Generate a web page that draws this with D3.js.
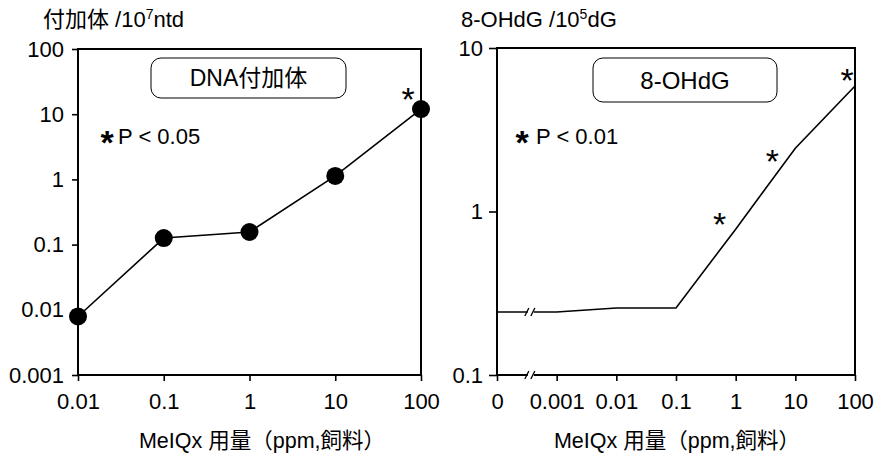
<!DOCTYPE html>
<html>
<head>
<meta charset="utf-8">
<script src="https://cdn.jsdelivr.net/npm/d3@7"></script>
<style>
  body { margin: 0; background: #fff; }
  svg { display: block; font-family: "Liberation Sans", Arial, "Noto Sans CJK JP", sans-serif; }
</style>
</head>
<body>
<div class="container"></div>
<script>
// left panel: DNA adducts
var doseLeft = [0.01, 0.1, 1, 10, 100];
var adductValues = [0.0079, 0.126, 0.156, 1.13, 12.0];
var adductSig = [100];
var adductTicks = [0.001, 0.01, 0.1, 1, 10, 100];
var adductTickLabels = ["0.001", "0.01", "0.1", "1", "10", "100"];
var doseTicksLeft = [0.01, 0.1, 1, 10, 100];
var doseLabelsLeft = ["0.01", "0.1", "1", "10", "100"];

// right panel: 8-OHdG
var doseRight = [0, 0.001, 0.01, 0.1, 1, 10, 100];
var ohdgValues = [0.243, 0.243, 0.257, 0.257, 0.78, 2.44, 5.86];
var ohdgSig = [1, 10, 100];
var ohdgTicks = [0.1, 1, 10];
var ohdgTickLabels = ["0.1", "1", "10"];
var doseTicksRight = [0, 0.001, 0.01, 0.1, 1, 10, 100];
var doseLabelsRight = ["0", "0.001", "0.01", "0.1", "1", "10", "100"];

const WIDTH = 877;
const HEIGHT = 455;
const ZERO = 1e-4; // where dose 0 sits on the broken log axis

var svg = d3.select('.container').append('svg')
	.attr('width', WIDTH)
	.attr('height', HEIGHT);

var styleAxis = function(g, size){
	g.select('.domain').remove();
	g.selectAll('line').attr('stroke', '#000').attr('stroke-width', 1.6);
	g.selectAll('text')
		.attr('fill', '#000')
		.style('font-size', size + 'px')
		.style('font-family', '"Liberation Sans", Arial, sans-serif');
};

// asterisk centred on (x, y)
var star = function(x, y, size, bold){
	svg.append('text')
		.attr('x', x).attr('y', y + size * 0.57)
		.attr('text-anchor', 'middle')
		.style('font-size', size + 'px')
		.style('font-weight', bold ? 'bold' : 'normal')
		.text('*');
};

var drawPanel = function(p){
	// axes
	svg.append('g')
		.attr('transform', 'translate(0,' + p.y.range()[0] + ')')
		.call(d3.axisBottom(p.x).tickValues(p.xTicks.map(p.xv)).tickSize(6).tickPadding(12)
			.tickFormat(function(d, i){ return p.xLabels[i]; }))
		.call(styleAxis, 22);

	svg.append('g')
		.attr('transform', 'translate(' + p.x.range()[0] + ',0)')
		.call(d3.axisLeft(p.y).tickValues(p.yTicks).tickSize(p.ytick).tickPadding(p.ypad)
			.tickFormat(function(d, i){ return p.yLabels[i]; }))
		.call(styleAxis, 22);

	// frame
	svg.append('rect')
		.attr('x', p.x.range()[0]).attr('y', p.y.range()[1])
		.attr('width', p.x.range()[1] - p.x.range()[0])
		.attr('height', p.y.range()[0] - p.y.range()[1])
		.attr('fill', 'none').attr('stroke', '#000').attr('stroke-width', 2);

	// line
	var line = d3.line()
		.x(function(d){ return p.x(p.xv(d[0])); })
		.y(function(d){ return p.y(d[1]); });
	var pts = p.dose.map(function(d, i){ return [d, p.values[i]]; });
	svg.append('path')
		.attr('d', line(pts))
		.attr('fill', 'none').attr('stroke', '#000').attr('stroke-width', 1.6);

	// legend box
	svg.append('rect')
		.attr('x', p.box[0]).attr('y', p.box[1])
		.attr('width', p.box[2]).attr('height', p.box[3])
		.attr('rx', 10).attr('ry', 10)
		.attr('fill', '#fff').attr('stroke', '#000').attr('stroke-width', 1);
	svg.append('text')
		.attr('x', p.box[0] + p.box[2] / 2).attr('y', p.box[1] + p.box[3] / 2)
		.attr('dy', '0.36em')
		.attr('text-anchor', 'middle')
		.style('font-size', p.nameSize + 'px')
		.text(p.name);

	// significance note
	star(p.note[0], p.note[1], 34, true);
	svg.append('text')
		.attr('x', p.note[2]).attr('y', p.note[1] + 9)
		.style('font-size', '22px')
		.text('P < ' + p.pval);

	// y title
	var t = svg.append('text')
		.attr('x', p.title[0]).attr('y', p.title[1])
		.style('font-size', '22px');
	t.append('tspan').text(p.titleText[0]);
	t.append('tspan').attr('dy', -8).style('font-size', '14px').text(p.titleText[1]);
	t.append('tspan').attr('dy', 8).text(p.titleText[2]);

	// x title
	svg.append('text')
		.attr('x', p.xTitle[0]).attr('y', p.xTitle[1])
		.attr('text-anchor', 'middle')
		.style('font-size', '21.5px')
		.text('MeIQx 用量（ppm,飼料）');
};

// left
var xL = d3.scaleLog().domain([0.01, 100]).range([78, 421]);
var yL = d3.scaleLog().domain([0.001, 100]).range([375, 49]);
drawPanel({
	x: xL, y: yL, xv: function(d){ return d; },
	xTicks: doseTicksLeft, xLabels: doseLabelsLeft,
	yTicks: adductTicks, yLabels: adductTickLabels, ytick: 6, ypad: 8,
	dose: doseLeft, values: adductValues,
	box: [151, 58, 195, 40], name: 'DNA付加体', nameSize: 23,
	note: [107, 135, 118], pval: '0.05',
	title: [43, 27], titleText: ['付加体 /10', '7', 'ntd'],
	xTitle: [262, 448]
});

svg.append('g').selectAll('circle')
	.data(doseLeft)
	.enter().append('circle')
	.attr('cx', function(d){ return xL(d); })
	.attr('cy', function(d, i){ return yL(adductValues[i]); })
	.attr('r', 9)
	.attr('fill', '#000');

adductSig.forEach(function(d){
	star(xL(d) - 13, yL(adductValues[doseLeft.indexOf(d)]) - 17, 34, false);
});

// right
var xR = d3.scaleLog().domain([ZERO, 100]).range([497, 855]);
var yR = d3.scaleLog().domain([0.1, 10]).range([375, 48]);
var zeroSafe = function(d){ return d === 0 ? ZERO : d; };
drawPanel({
	x: xR, y: yR, xv: zeroSafe,
	xTicks: doseTicksRight, xLabels: doseLabelsRight,
	yTicks: ohdgTicks, yLabels: ohdgTickLabels, ytick: 8, ypad: 6,
	dose: doseRight, values: ohdgValues,
	box: [593, 58, 184, 44], name: '8-OHdG', nameSize: 24,
	note: [522, 135, 536], pval: '0.01',
	title: [461, 27], titleText: ['8-OHdG /10', '5', 'dG'],
	xTitle: [677, 448]
});

// significance stars, nudged off the line as in the original
var starNudge = [[-16, -13], [-23, 5], [-8, -13]];
ohdgSig.forEach(function(d, i){
	star(xR(d) + starNudge[i][0], yR(ohdgValues[doseRight.indexOf(d)]) + starNudge[i][1], 34, false);
});

// axis break marks between 0 and 0.001
var xb = (xR(ZERO) + xR(0.001)) / 2 + 4;
[yR(ohdgValues[0]), yR.range()[0]].forEach(function(y){
	svg.append('rect')
		.attr('x', xb - 3).attr('y', y - 3)
		.attr('width', 6).attr('height', 6)
		.attr('fill', '#fff');
	[-4, 2].forEach(function(o){
		svg.append('line')
			.attr('x1', xb + o - 2).attr('y1', y + 4)
			.attr('x2', xb + o + 2).attr('y2', y - 4)
			.attr('stroke', '#000').attr('stroke-width', 1.3);
	});
});
</script>
</body>
</html>
